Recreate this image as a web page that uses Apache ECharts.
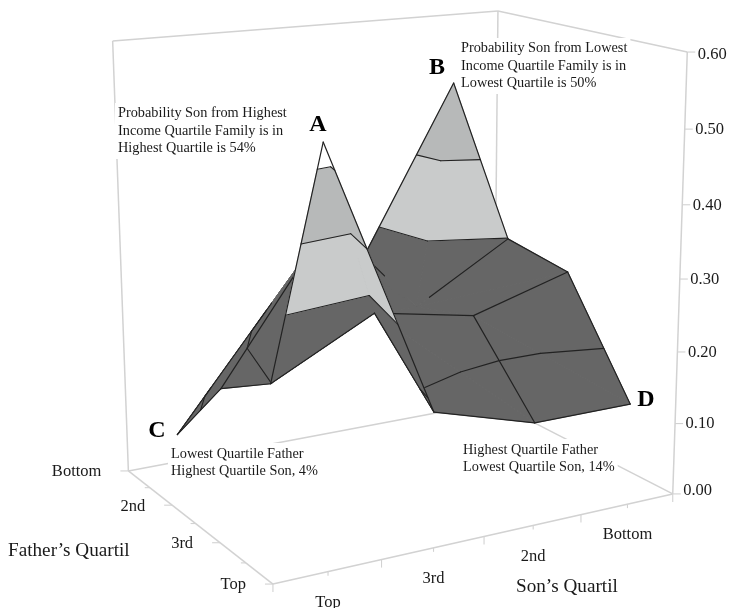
<!DOCTYPE html>
<html><head><meta charset="utf-8">
<style>html,body{margin:0;padding:0;background:#fff}#c{width:729px;height:608px}</style>
<script src="https://cdn.jsdelivr.net/npm/echarts@6/dist/echarts.min.js"></script>
</head><body><div id="c"></div>
<script>
// ---- data ----
const sonLabels = ['Top','3rd','2nd','Bottom'];
const fatherLabels = ['Bottom','2nd','3rd','Top'];
const valueTicks = [0,0.1,0.2,0.3,0.4,0.5,0.6];
const fatherBottom = [0.04,0.21,0.26,0.50];
const father2nd    = [0.15,0.34,0.22,0.299];
const father3rd    = [0.199,0.27,0.245,0.285];
const fatherTop    = [0.535,0.18,0.14,0.14];
const grid = [fatherBottom,father2nd,father3rd,fatherTop];
const contourLevels = [0.1,0.2,0.3,0.4,0.5];
// ---- appearance ----
const zMax = 0.6;
const sonPos = [1/8,3/8,5/8,7/8];
const fatherPos = [0,1/3,2/3,1];
const bands = [[-1,0.3,'#666666'],[0.3,0.4,'#c9cbcb'],[0.4,0.5,'#b7b9b9'],[0.5,1,'#ffffff']];
const diagonals = [[0,0,1],[1,1,0],[1,0,0]];           // which way each cell is folded
const rowLines = [[[0,1],[0,1],[0,1]],[[0,1],null,[0.14,1]],[[0,1],[0,1],[0,1]],[[0,1],[0,1],[0,1]]];
const colLines = [[[0,1],[0,1],[0,1]],[null,null,[0,1]],[[0,0.4],null,[0,1]],[[0,1],[0,1],[0,1]]];
const FRAME = '#d2d2d2', FONT = '"Liberation Serif","Times New Roman",serif', INK = '#1a1a1a';
// camera: box corners as seen in the picture  [u,v,w] -> [x,y]
const cameraAnchors = [
 [0,0,0,128,471],[0,1,0,273,584],[1,1,0,672,494],[1,0,0,495,402],
 [0,0,1,113,41],[1,0,1,497,11],[1,1,1,688,52]];
function solve(A,b){const n=b.length,M=A.map((r,i)=>r.concat(b[i]));
 for(let i=0;i<n;i++){let p=i;for(let k=i+1;k<n;k++)if(Math.abs(M[k][i])>Math.abs(M[p][i]))p=k;
  [M[i],M[p]]=[M[p],M[i]];
  for(let k=i+1;k<n;k++){const f=M[k][i]/M[i][i];for(let j=i;j<=n;j++)M[k][j]-=f*M[i][j];}}
 const x=new Array(n);for(let i=n-1;i>=0;i--){let s=M[i][n];for(let j=i+1;j<n;j++)s-=M[i][j]*x[j];x[i]=s/M[i][i];}
 return x;}
const P=(function(){const R=[],B=[];
 cameraAnchors.forEach(([u,v,w,x,y])=>{
  R.push([u,v,w,1,0,0,0,0,-x*u/500,-x*v/500,-x*w/500]);B.push(x/500);
  R.push([0,0,0,0,u,v,w,1,-y*u/500,-y*v/500,-y*w/500]);B.push(y/500);});
 const N=11,A=[],b=[];
 for(let i=0;i<N;i++){A.push([]);let s=0;for(let j=0;j<N;j++){let t=0;R.forEach(r=>t+=r[i]*r[j]);A[i].push(t);}
  R.forEach((r,k)=>s+=r[i]*B[k]);b.push(s);}
 return solve(A,b);})();
function project(u,v,val){const w=val/zMax,d=P[8]*u+P[9]*v+P[10]*w+1;
 return [500*(P[0]*u+P[1]*v+P[2]*w+P[3])/d,500*(P[4]*u+P[5]*v+P[6]*w+P[7])/d];}
function node(s,f){return [sonPos[s],fatherPos[f],grid[f][s]];}
function clip(poly,level,keepAbove){const out=[];
 for(let i=0;i<poly.length;i++){const a=poly[i],b=poly[(i+1)%poly.length];
  const ia=keepAbove?a[2]>=level:a[2]<=level, ib=keepAbove?b[2]>=level:b[2]<=level;
  if(ia)out.push(a);
  if(ia!==ib){const t=(level-a[2])/(b[2]-a[2]);out.push([a[0]+t*(b[0]-a[0]),a[1]+t*(b[1]-a[1]),level]);}}
 return out;}
function contour(tri,level){const pts=[];
 for(let i=0;i<3;i++){const a=tri[i],b=tri[(i+1)%3];
  if((a[2]-level)*(b[2]-level)<0){const t=(level-a[2])/(b[2]-a[2]);pts.push([a[0]+t*(b[0]-a[0]),a[1]+t*(b[1]-a[1]),level]);}}
 return pts.length===2?pts:null;}
// cells painted far to near
const cells=[];for(let f=0;f<3;f++)for(let s=2;s>=0;s--)cells.push([s,f]);
function toPx(api,p){const q=project(p[0],p[1],p[2]);return api.coord(q);}
function segLine(api,a,b,t0,t1,color,width){
 const m=t=>[a[0]+t*(b[0]-a[0]),a[1]+t*(b[1]-a[1]),a[2]+t*(b[2]-a[2])];
 const p=toPx(api,m(t0)),q=toPx(api,m(t1));
 return {type:'line',shape:{x1:p[0],y1:p[1],x2:q[0],y2:q[1]},style:{stroke:color,lineWidth:width,lineCap:'round'}};}
function renderCell(params,api){
 const s=api.value(0),f=api.value(1),ch=[];
 const a=node(s,f),b=node(s+1,f),c=node(s+1,f+1),d=node(s,f+1);
 const tris=diagonals[f][s]===0?[[a,b,c],[a,c,d]]:[[b,a,d],[b,d,c]];
 tris.forEach(tri=>{
  bands.forEach(([lo,hi,col])=>{
   let poly=clip(tri,lo,true);if(poly.length>2)poly=clip(poly,hi,false);
   if(poly.length>2)ch.push({type:'polygon',shape:{points:poly.map(p=>toPx(api,p))},style:{fill:col,stroke:col,lineWidth:1,lineJoin:'round'}});});
 });
 tris.forEach(tri=>contourLevels.forEach(l=>{const g=contour(tri,l);
  if(g)ch.push(segLine(api,g[0],g[1],0,1,'#222',1.1));}));
 // grid lines owned by this cell
 const rowEdge=(ff)=>{const r=rowLines[ff][s];if(r)ch.push(segLine(api,node(s,ff),node(s+1,ff),r[0],r[1],'#222',1.2));};
 const colEdge=(ss)=>{const r=colLines[ss][f];if(r)ch.push(segLine(api,node(ss,f),node(ss,f+1),r[0],r[1],'#222',1.2));};
 rowEdge(f); if(f===2)rowEdge(3);
 colEdge(s+1); if(s===0)colEdge(0);
 return {type:'group',children:ch};
}
// frame
const frameEdges=[[0,0,0,1,0,0],[1,0,0,1,1,0],[0,0,0,0,1,0],[0,1,0,1,1,0],
 [0,0,0,0,0,1],[1,0,0,1,0,1],[1,1,0,1,1,1],[0,0,1,1,0,1],[1,0,1,1,1,1]];
function renderFrame(params,api){
 const e=frameEdges[api.value(0)];
 const p=api.coord(project(e[0],e[1],e[2]*zMax)),q=api.coord(project(e[3],e[4],e[5]*zMax));
 return {type:'line',shape:{x1:p[0],y1:p[1],x2:q[0],y2:q[1]},style:{stroke:FRAME,lineWidth:1.5}};
}
function tickMark(p,dx,dy){return {type:'line',shape:{x1:p[0],y1:p[1],x2:p[0]+dx,y2:p[1]+dy},style:{stroke:FRAME,lineWidth:1.1}};}
function txt(x,y,text,size,align,extra){return {type:'text',x:x,y:y,style:Object.assign({text:text,fontFamily:FONT,fontSize:size,fill:INK,align:align||'left',verticalAlign:'middle'},extra||{})};}
function renderAxes(params,api){
 const kind=api.value(0),i=api.value(1),ch=[];
 if(kind===0){const p=api.coord(project(1,1,valueTicks[i]));
  ch.push(tickMark(p,8,0));ch.push(txt(p[0]+10.5,p[1]+(i===0?-3:(i===6?3:0.5)),valueTicks[i].toFixed(2),16.5));}
 if(kind===1){const p=api.coord(project(sonPos[i],1,0));
  ch.push(txt(p[0],p[1]+31,sonLabels[i],16.5,'center'));
  [sonPos[i]-1/8,sonPos[i]].forEach((u,k)=>{const b=api.coord(project(u,1,0));ch.push(tickMark(b,0,k?4:8));});
  if(i===3)ch.push(tickMark(api.coord(project(1,1,0)),0,8));}
 if(kind===2){const p=api.coord(project(0,fatherPos[i],0));
  ch.push(txt(p[0]-27,p[1]+1,fatherLabels[i],16.5,'right'));
  ch.push(tickMark(p,-8,0));
  if(i<3){const b=api.coord(project(0,fatherPos[i]+1/6,0));ch.push(tickMark(b,-5,0));}}
 return {type:'group',children:ch};
}
const axisItems=[];
valueTicks.forEach((v,i)=>axisItems.push([0,i]));
sonLabels.forEach((v,i)=>axisItems.push([1,i]));
fatherLabels.forEach((v,i)=>axisItems.push([2,i]));
const notes=[
 {x:115,y:131,t:'Probability Son from Highest\nIncome Quartile Family is in\nHighest Quartile is 54%'},
 {x:458,y:66,t:'Probability Son from Lowest\nIncome Quartile Family is in\nLowest Quartile is 50%'},
 {x:168,y:462.5,t:'Lowest Quartile Father\nHighest Quartile Son, 4%'},
 {x:460,y:458.5,t:'Highest Quartile Father\nLowest Quartile Son, 14%'}];
const letters=[['A',318,125],['B',437,68],['C',157,431],['D',646,400]];
const titles=[['Father\u2019s Quartil',8,551],['Son\u2019s Quartil',516,587]];
const graphic=[];
notes.forEach(n=>graphic.push({type:'text',z:50,x:n.x,y:n.y,style:{text:n.t,fontFamily:FONT,fontSize:14.3,lineHeight:17.4,fill:INK,verticalAlign:'middle',backgroundColor:'#fff',padding:[2,3,2,3]}}));
letters.forEach(l=>graphic.push({type:'text',z:51,x:l[1],y:l[2],style:{text:l[0],fontFamily:FONT,fontSize:24,fontWeight:'bold',fill:'#000',align:'center',verticalAlign:'middle'}}));
titles.forEach(l=>graphic.push({type:'text',z:51,x:l[1],y:l[2],style:{text:l[0],fontFamily:FONT,fontSize:19.2,fill:INK,verticalAlign:'middle'}}));
const chart=echarts.init(document.getElementById('c'),null,{renderer:'canvas'});
chart.setOption({
 animation:false,backgroundColor:'#fff',
 grid:{left:0,right:0,top:0,bottom:0},
 xAxis:{type:'value',min:0,max:729,show:false},
 yAxis:{type:'value',min:0,max:608,inverse:true,show:false},
 graphic:graphic,
 series:[
  {type:'custom',name:'frame',z:1,clip:false,silent:true,data:frameEdges.map((e,i)=>[i]),encode:{x:[],y:[]},renderItem:renderFrame},
  {type:'custom',name:'axes',z:2,clip:false,silent:true,data:axisItems,encode:{x:[],y:[]},renderItem:renderAxes},
  {type:'custom',name:'surface',z:3,clip:false,silent:true,data:cells,encode:{x:[],y:[]},renderItem:renderCell}
 ]});
</script></body></html>
